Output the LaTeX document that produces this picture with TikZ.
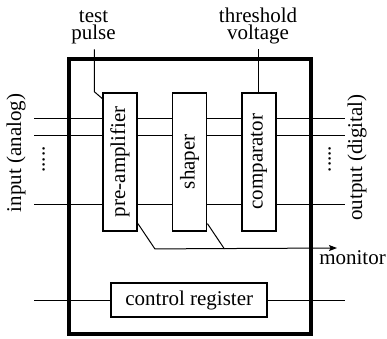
\documentclass[tikz,border=0pt]{standalone}
\usepackage{fontspec}
\newfontfamily\tms{Liberation Serif}
\usepackage{graphicx}
\usetikzlibrary{arrows.meta}

\begin{document}
\begin{tikzpicture}[x=1pt, y=1pt,
	every node/.style={font=\tms\fontsize{21}{16.6}\selectfont},
	blk/.style={rectangle, draw, line width=1.8pt, fill=white, minimum width=34pt,
	            minimum height=138pt, inner sep=0pt},
	chip/.style={rectangle, draw, line width=4pt, minimum width=242.3pt, minimum height=275pt},
	sig/.style={line width=1pt},
	arr/.style={sig, -{Stealth[length=8pt, width=6pt, inset=1.5pt]}},
	lbl/.style={inner sep=0pt, align=center},
	vlbl/.style={inner sep=0pt, rotate=90}
	]
	\useasboundingbox (0,0) rectangle (387,338);

	\node[chip] (chip) at (189.85,141.8) {};
	\node[blk] (pre) at (120,176.3) {\rotatebox{90}{pre-amplifier}};
	\node[blk] (sha) at (189.5,176.3) {\rotatebox{90}{shaper}};
	\node[blk] (cmp) at (258.9,176.3) {\rotatebox{90}{comparator}};
	\node[blk, minimum width=156pt, minimum height=34pt] (reg) at (189.2,38) {control register};

	% channels
	\foreach \i/\yy in {1/220,2/203,3/134} {
		\coordinate (in\i) at (34,\yy);
		\coordinate (out\i) at (345,\yy);
		\draw[sig] (in\i) -- (in\i -| pre.west)
		           (in\i -| pre.east) -- (in\i -| sha.west)
		           (in\i -| sha.east) -- (in\i -| cmp.west)
		           (in\i -| cmp.east) -- (out\i);
	}
	\coordinate (regin) at (34,38);
	\coordinate (regout) at (345,38);
	\draw[sig] (regin) -- (reg.west) (reg.east) -- (regout);

	\node[vlbl] (inlbl) at (16,185) {input (analog)};
	\node[vlbl] (outlbl) at (357,180.5) {output (digital)};
	\node[vlbl, anchor=base] (indots) at (44.5,178.5) {.....};
	\node[vlbl, anchor=base] (outdots) at (330.5,179) {.....};

	% test pulse and threshold
	\node[lbl, anchor=south] (tplbl) at (93.5,294) {test\\pulse};
	\node[lbl, anchor=south] (thlbl) at (258,294) {threshold\\voltage};
	\draw[sig] ([yshift=-5.3pt]tplbl.south -| 94.3,0) -- (94.3,246.3) -- ([yshift=-6.6pt]pre.north west);
	\draw[sig] (cmp.north |- 0,288.7) -- (cmp.north);

	% monitor
	\coordinate (mon) at (337,90);
	\draw[arr] ([yshift=8pt]pre.south east) -- ++(17,-25.3) -- (mon);
	\draw[sig] ([yshift=8pt]sha.south east) -- ++(17,-25.3);
	\node[anchor=base, inner sep=0pt] (monlbl) at (352.5,74) {monitor};
\end{tikzpicture}
\end{document}
